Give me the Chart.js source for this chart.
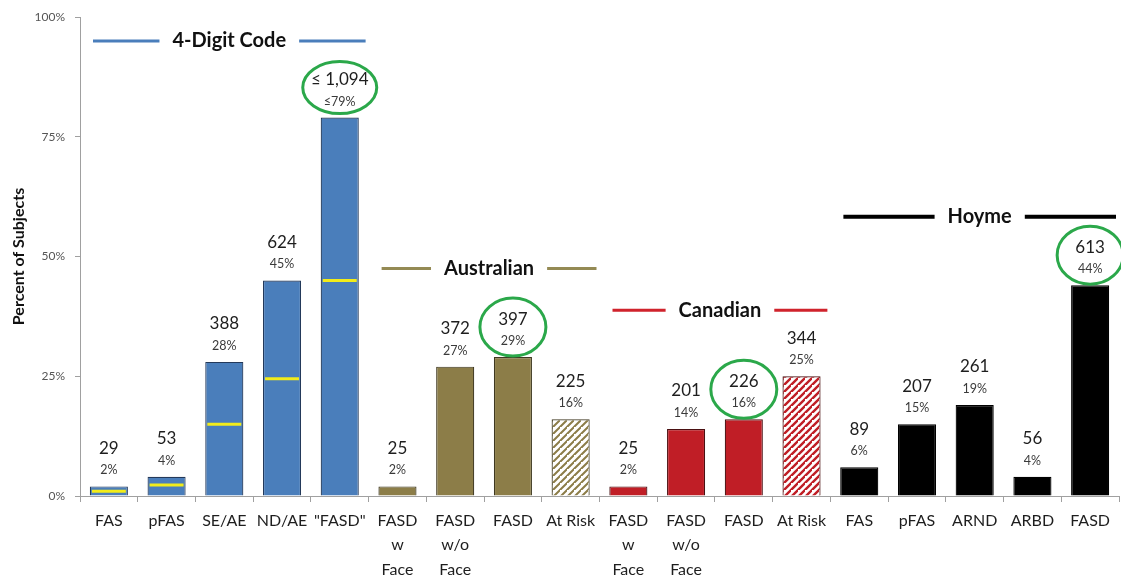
<!DOCTYPE html>
<html>
<head>
<meta charset="utf-8">
<script src="https://cdn.jsdelivr.net/npm/chart.js@4.4.0/dist/chart.umd.min.js"></script>
<style>
  html, body { margin: 0; padding: 0; background: #ffffff; }
  canvas { display: block; }
</style>
</head>
<body>
<canvas id="chart" width="1121" height="585"></canvas>
<script>
// Diagnostic categories (multi-line axis labels)
const categories = [
  ['FAS'], ['pFAS'], ['SE/AE'], ['ND/AE'], ['"FASD"'],
  ['FASD', 'w', 'Face'], ['FASD', 'w/o', 'Face'], ['FASD'], ['At Risk'],
  ['FASD', 'w', 'Face'], ['FASD', 'w/o', 'Face'], ['FASD'], ['At Risk'],
  ['FAS'], ['pFAS'], ['ARND'], ['ARBD'], ['FASD']
];
// Percent of subjects per category
const percents = [2, 4, 28, 45, 79, 2, 27, 29, 16, 2, 14, 16, 25, 6, 15, 19, 4, 44];
// Subject counts shown above each bar
const subjects = ['29', '53', '388', '624', '1,094', '25', '372', '397', '225', '25', '201', '226', '344', '89', '207', '261', '56', '613'];
// Upper-bound qualifier for a count / percent
const qualifiers = ['', '', '', '', '≤', '', '', '', '', '', '', '', '', '', '', '', '', ''];
// Sub-level markers inside the 4-Digit Code bars
const markerValues = [1, 2.3, 15, 24.5, 45, null, null, null, null, null, null, null, null, null, null, null, null, null];
// "At Risk" categories drawn hatched
const hatchedIndex = [8, 12];
// Categories circled in green
const circledIndex = [4, 7, 11, 17];
// Diagnostic systems
const groupNames = ['4-Digit Code', 'Australian', 'Canadian', 'Hoyme'];
const groupFirst = [0, 5, 9, 13];
const groupLast = [4, 8, 12, 17];
const groupLevel = [95, 47.5, 38.8, 58.3];
// Y-axis ticks
const yTicks = [0, 25, 50, 75, 100];

const FONT = "Lato, 'Open Sans', sans-serif";
const groupColors = ['#4A7EBB', '#8C7D48', '#C01E26', '#000000'];
const groupBorders = ['#23395A', '#3E3820', '#4A1012', '#000000'];
const headerLineColors = ['#4A7EBB', '#948A54', '#D0232C', '#000000'];

function groupOf(i) {
  for (let g = 0; g < groupFirst.length; g++) {
    if (i >= groupFirst[g] && i <= groupLast[g]) return g;
  }
  return 0;
}

function makeHatch(color, size, width) {
  const c = document.createElement('canvas');
  c.width = size; c.height = size;
  const ctx = c.getContext('2d');
  ctx.fillStyle = '#ffffff';
  ctx.fillRect(0, 0, size, size);
  ctx.strokeStyle = color;
  ctx.lineWidth = width;
  ctx.beginPath();
  ctx.moveTo(-size, size * 2); ctx.lineTo(size * 2, -size);
  ctx.moveTo(-size * 2, size); ctx.lineTo(size, -size * 2);
  ctx.moveTo(0, size * 2); ctx.lineTo(size * 2, 0);
  ctx.stroke();
  return document.getElementById('chart').getContext('2d').createPattern(c, 'repeat');
}

const fills = percents.map((_, i) => {
  const g = groupOf(i);
  if (hatchedIndex.includes(i)) {
    return g === 1 ? makeHatch('#8C7D48', 7, 2) : makeHatch('#C01E26', 7, 2.4);
  }
  return groupColors[g];
});
const borders = percents.map((_, i) => groupBorders[groupOf(i)]);

// Count and percent labels, green highlight circles, group headers
const annotate = {
  id: 'annotate',
  afterDatasetsDraw(chart) {
    const ctx = chart.ctx;
    const meta = chart.getDatasetMeta(0);
    const xs = chart.scales.x;
    const ys = chart.scales.y;
    ctx.save();
    ctx.textAlign = 'center';
    ctx.textBaseline = 'middle';
    meta.data.forEach((bar, i) => {
      const q = qualifiers[i];
      ctx.fillStyle = '#1e1e1e';
      ctx.font = '17px ' + FONT;
      ctx.fillText(q ? q + ' ' + subjects[i] : subjects[i], bar.x, bar.y - 38);
      ctx.fillStyle = '#3a3a3a';
      ctx.font = '12.5px ' + FONT;
      ctx.fillText((q || '') + percents[i] + '%', bar.x, bar.y - 16);
    });
    ctx.strokeStyle = '#2BA84A';
    ctx.lineWidth = 3;
    circledIndex.forEach(i => {
      const bar = meta.data[i];
      const wide = qualifiers[i] ? 37 : 33;
      const tall = qualifiers[i] ? 26 : 29;
      ctx.beginPath();
      ctx.ellipse(bar.x, bar.y - 30, wide, tall, 0, 0, Math.PI * 2);
      ctx.stroke();
    });
    const cw = xs.width / categories.length;
    groupNames.forEach((name, g) => {
      const x0 = xs.getPixelForValue(groupFirst[g]) - cw / 2 + 13;
      const x1 = xs.getPixelForValue(groupLast[g]) + cw / 2 - 3;
      const y = ys.getPixelForValue(groupLevel[g]);
      const cx = (x0 + x1) / 2;
      ctx.font = 'bold 20px ' + FONT;
      const w = ctx.measureText(name).width;
      ctx.fillStyle = '#111111';
      ctx.fillText(name, cx, y);
      ctx.strokeStyle = headerLineColors[g];
      ctx.lineWidth = g === 3 ? 4 : 3;
      ctx.beginPath();
      ctx.moveTo(x0, y); ctx.lineTo(cx - w / 2 - 13, y);
      ctx.moveTo(cx + w / 2 + 13, y); ctx.lineTo(x1, y);
      ctx.stroke();
    });
    ctx.restore();
  }
};

new Chart(document.getElementById('chart'), {
  type: 'bar',
  data: {
    labels: categories,
    datasets: [
      {
        label: 'Percent of Subjects',
        data: percents,
        backgroundColor: fills,
        borderColor: borders,
        borderWidth: 1.2,
        barPercentage: 0.66,
        categoryPercentage: 1,
        order: 2
      },
      {
        type: 'line',
        label: 'Sub-level',
        data: markerValues,
        showLine: false,
        pointStyle: 'line',
        pointRadius: 17,
        pointHoverRadius: 17,
        borderColor: '#F2EC1A',
        borderWidth: 3,
        order: 1
      }
    ]
  },
  options: {
    responsive: false,
    animation: false,
    layout: { autoPadding: false, padding: { top: 17, right: 2, left: 0, bottom: 0 } },
    plugins: { legend: { display: false }, tooltip: { enabled: false } },
    scales: {
      x: {
        offset: true,
        grid: { offset: true, drawOnChartArea: false, drawTicks: true, tickLength: 6, color: '#a0a0a0' },
        border: { color: '#a0a0a0', width: 1 },
        ticks: {
          color: '#1e1e1e',
          font: { family: FONT, size: 16, lineHeight: 1.55 },
          padding: 6,
          maxRotation: 0,
          autoSkip: false
        },
        afterFit(scale) {
          scale.height = 89;
          scale.paddingLeft = 0;
          scale.paddingRight = 0;
        }
      },
      y: {
        min: 0,
        max: 100,
        afterBuildTicks(scale) { scale.ticks = yTicks.map(v => ({ value: v })); },
        grid: { drawOnChartArea: false, drawTicks: true, tickLength: 5, color: '#a0a0a0' },
        border: { color: '#a0a0a0', width: 1 },
        ticks: {
          color: '#555555',
          font: { family: FONT, size: 12 },
          padding: 10,
          callback: v => v + '%'
        },
        title: {
          display: true,
          text: 'Percent of Subjects',
          color: '#111111',
          font: { family: FONT, size: 16, weight: 'bold' },
          padding: { top: 9, bottom: 0 }
        },
        afterFit(scale) {
          scale.width = 80;
          scale.paddingTop = 0;
          scale.paddingBottom = 0;
        }
      }
    }
  },
  plugins: [annotate]
});
</script>
</body>
</html>
